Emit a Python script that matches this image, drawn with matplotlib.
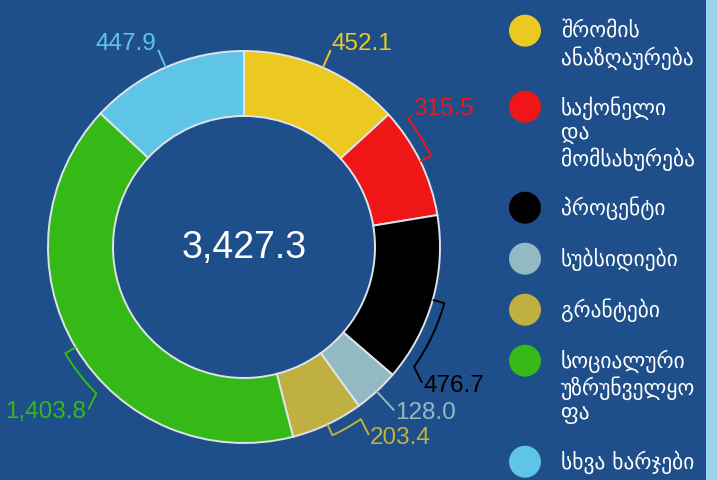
import matplotlib
matplotlib.use('Agg')
import matplotlib.pyplot as plt
import numpy as np

# ---- data ----
categories = ['შრომის ანაზღაურება', 'საქონელი და მომსახურება', 'პროცენტი',
              'სუბსიდიები', 'გრანტები', 'სოციალური უზრუნველყოფა', 'სხვა ხარჯები']
values = [452.1, 315.5, 476.7, 128.0, 203.4, 1403.8, 447.9]
total_label = 3427.3
legend_lines = [['შრომის', 'ანაზღაურება'],
                ['საქონელი', 'და', 'მომსახურება'],
                ['პროცენტი'],
                ['სუბსიდიები'],
                ['გრანტები'],
                ['სოციალური', 'უზრუნველყო', 'ფა'],
                ['სხვა ხარჯები']]
colors = ['#ecc920', '#ee1616', '#000000', '#93b9c3', '#c0b041', '#34b916', '#5ec5e6']
label_colors = ['#ecc920', '#ee1616', '#000000', '#93b9c3', '#c0b041', '#34b916', '#5ec5e6']
# connector displacement along the arc (degrees, layout only)
label_shift = [0, -12, 19.5, 0, -9, -14, 0]

BG = '#1e4f8a'
W, H = 717, 481
fig = plt.figure(figsize=(W / 100, H / 100), dpi=100, facecolor=BG)
ax = fig.add_axes([0, 0, 1, 1])
ax.set_facecolor(BG)

cx, cy = 244, 233
R, WIDTH = 196, 65

ax.pie(values, colors=colors, startangle=90, counterclock=False,
       center=(cx, cy), radius=R,
       wedgeprops=dict(width=WIDTH, edgecolor='#dfe3e8', linewidth=1.4))
ax.set_xlim(0, W)
ax.set_ylim(0, H)
ax.set_aspect('equal')
ax.axis('off')

ax.text(cx, cy, f'{total_label:,.1f}', ha='center', va='center', color='white',
        fontsize=27, family=['Liberation Sans', 'DejaVu Sans'])

def pt(a_deg, r):
    a = np.radians(a_deg)
    return cx + r * np.sin(a), cy + r * np.cos(a)

total = sum(values)
cum = np.concatenate([[0], np.cumsum(values)]) / total * 360
for i, v in enumerate(values):
    mid = (cum[i] + cum[i + 1]) / 2
    sh = label_shift[i]
    if sh == 0:
        upper = pt(mid, R)[1] > cy
        xs, ys = zip(pt(mid, R), pt(mid, R + (19 if upper else 26)))
    else:
        arc = np.linspace(mid, mid + sh, 30)
        pts = [pt(mid, R)] + [pt(a, R + 12) for a in arc]
        ax_, ay_ = pts[-1]
        sx = 1 if ax_ > cx else -1
        if ay_ > cy:
            pts.append((ax_ + sx * 4, ay_ + 4))
        else:
            pts.append((ax_ + sx * 8, ay_ - 16))
        xs, ys = zip(*pts)
    ax.plot(xs, ys, color=label_colors[i], lw=1.4, solid_capstyle='butt')
    ex, ey = xs[-1], ys[-1]
    ha = 'left' if ex > cx else 'right'
    va = 'bottom' if ey > cy + 100 else 'center'
    ax.text(ex + (1 if ha == 'left' else -2), ey - (4 if va == 'bottom' else 0) - (2 if va == 'center' else 0),
            f'{v:,.1f}', ha=ha, va=va, color=label_colors[i], fontsize=17.5,
            family=['Liberation Sans', 'DejaVu Sans'])

# right strip
ax.axvspan(706, W, color='#9bd4ea', lw=0)

# legend (manual, circle aligned with first line)
y = H - 31.7
for i, lines in enumerate(legend_lines):
    ax.scatter([525], [y], s=530, color=colors[i], edgecolor='none', zorder=5)
    for j, ln in enumerate(lines):
        ax.text(561, y - j * 26, ln, ha='left', va='center', color='white',
                fontsize=15.5, family=['DejaVu Sans'])
    y -= 25 * (len(lines) - 1) + 51

fig.savefig('out.png', dpi=100, facecolor=BG)
